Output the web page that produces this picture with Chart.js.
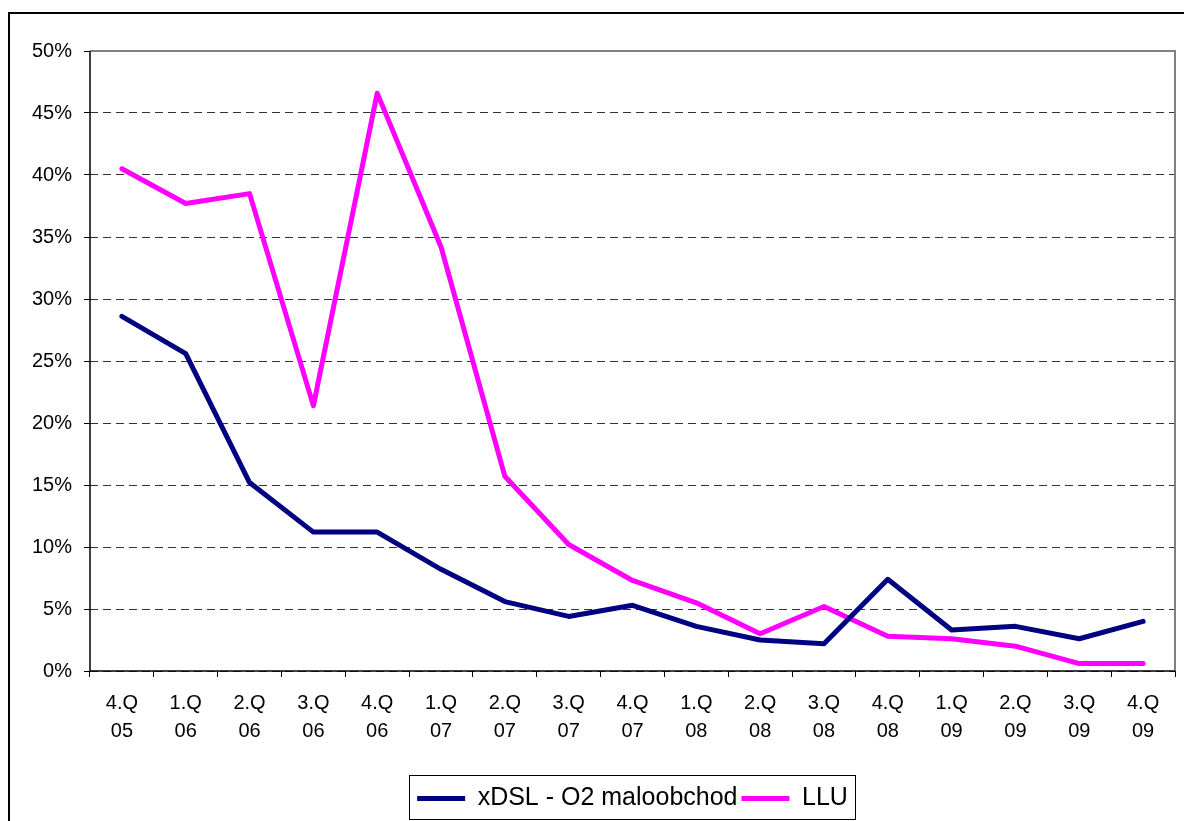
<!DOCTYPE html>
<html>
<head>
<meta charset="utf-8">
<script src="https://cdn.jsdelivr.net/npm/chart.js@4"></script>
<style>
html,body{margin:0;padding:0;background:#fff;overflow:hidden;}
#wrap{position:absolute;left:0;top:0;width:1184px;height:821px;}
#frame{position:absolute;left:8px;top:12px;width:1200px;height:900px;border:2px solid #000;box-sizing:border-box;}
canvas{position:absolute;left:0;top:0;}
</style>
</head>
<body>
<div id="wrap">
<div id="frame"></div>
<canvas id="c" width="1184" height="821"></canvas>
</div>
<script>
const categories = [["4.Q","05"],["1.Q","06"],["2.Q","06"],["3.Q","06"],["4.Q","06"],["1.Q","07"],["2.Q","07"],["3.Q","07"],["4.Q","07"],["1.Q","08"],["2.Q","08"],["3.Q","08"],["4.Q","08"],["1.Q","09"],["2.Q","09"],["3.Q","09"],["4.Q","09"]];
const xdslValues = [28.6,25.6,15.2,11.2,11.2,8.2,5.6,4.4,5.3,3.6,2.5,2.2,7.4,3.3,3.6,2.6,4.0];
const lluValues = [40.5,37.7,38.5,21.4,46.6,34.2,15.7,10.2,7.3,5.5,3.0,5.2,2.8,2.6,2.0,0.6,0.6];
const seriesNames = ["xDSL - O2 maloobchod","LLU"];
const yTicks = [0,5,10,15,20,25,30,35,40,45,50];

const FONT = "'Liberation Sans', Arial, sans-serif";

const framePlugin = {
  id: 'framePlugin',
  afterLayout(chart){
    const lg = chart.legend;
    const a = chart.chartArea;
    if(!lg) return;
    const s = ((a.left + a.right) - (lg.left + lg.right)) / 2;
    lg.left += s; lg.right += s;
  },
  beforeDatasetsDraw(chart){
    const {ctx, chartArea:a} = chart;
    ctx.save();
    ctx.lineWidth = 2;
    ctx.strokeStyle = '#808080';
    ctx.beginPath();
    ctx.moveTo(a.left, a.top); ctx.lineTo(a.right, a.top); ctx.lineTo(a.right, a.bottom);
    ctx.stroke();
    ctx.strokeStyle = '#000';
    ctx.lineWidth = 1.5;
    ctx.beginPath();
    ctx.moveTo(a.left, a.top); ctx.lineTo(a.left, a.bottom); ctx.lineTo(a.right, a.bottom);
    ctx.stroke();
    ctx.restore();
  },
  afterDraw(chart){
    const lg = chart.legend;
    if(!lg || !lg.legendHitBoxes || !lg.legendHitBoxes.length) return;
    const hb = lg.legendHitBoxes;
    let l = Infinity, r = -Infinity, t = Infinity, b = -Infinity;
    hb.forEach(h=>{ l=Math.min(l,h.left); r=Math.max(r,h.left+h.width); t=Math.min(t,h.top); b=Math.max(b,h.top+h.height);});
    const ctx = chart.ctx;
    ctx.save();
    ctx.strokeStyle = '#000';
    ctx.lineWidth = 1;
    const cy = (t+b)/2;
    ctx.strokeRect(Math.round(l-8)+0.5, Math.round(cy-24)+0.5, Math.round(r-l+15), 44);
    ctx.restore();
  }
};

new Chart(document.getElementById('c'), {
  type: 'line',
  data: {
    labels: categories,
    datasets: [
      {label: seriesNames[0], data: xdslValues, borderColor: '#000080', backgroundColor:'#000080', borderWidth: 5, pointRadius: 0, tension: 0, borderCapStyle:'round', borderJoinStyle:'round'},
      {label: seriesNames[1], data: lluValues, borderColor: '#FF00FF', backgroundColor:'#FF00FF', borderWidth: 5, pointRadius: 0, tension: 0, borderCapStyle:'round', borderJoinStyle:'round'}
    ]
  },
  options: {
    responsive: false,
    animation: false,
    devicePixelRatio: 1,
    layout: {padding: {left: 0, right: 9, top: 51, bottom: 0}},
    plugins: {
      legend: {
        position: 'bottom',
        labels: {
          usePointStyle: true,
          pointStyle: 'line',
          pointStyleWidth: 48,
          boxHeight: 25,
          color: '#000',
          font: {family: FONT, size: 25},
          padding: 4
        }
      },
      tooltip: {enabled: false}
    },
    scales: {
      x: {
        offset: true,
        grid: {offset: true, drawOnChartArea: false, drawTicks: true, tickLength: 6, color: '#000', lineWidth: 1},
        border: {display: false},
        ticks: {color: '#000', font: {family: FONT, size: 20, lineHeight: 1.4}, maxRotation: 0, autoSkip: false, padding: 12},
        afterFit(s){ s.height = 111; }
      },
      y: {
        min: 0, max: 50,
        afterBuildTicks(s){ s.ticks = yTicks.map(v=>({value:v})); },
        grid: {color: '#333', lineWidth: 1, tickLength: 6, tickColor: '#000', drawTicks: true},
        border: {display: false, dash: [8,5]},
        ticks: {color: '#000', font: {family: FONT, size: 20}, padding: 12, callback: v => v + '%'},
        afterFit(s){ s.width = 90; }
      }
    }
  },
  plugins: [framePlugin]
});
</script>
</body>
</html>
